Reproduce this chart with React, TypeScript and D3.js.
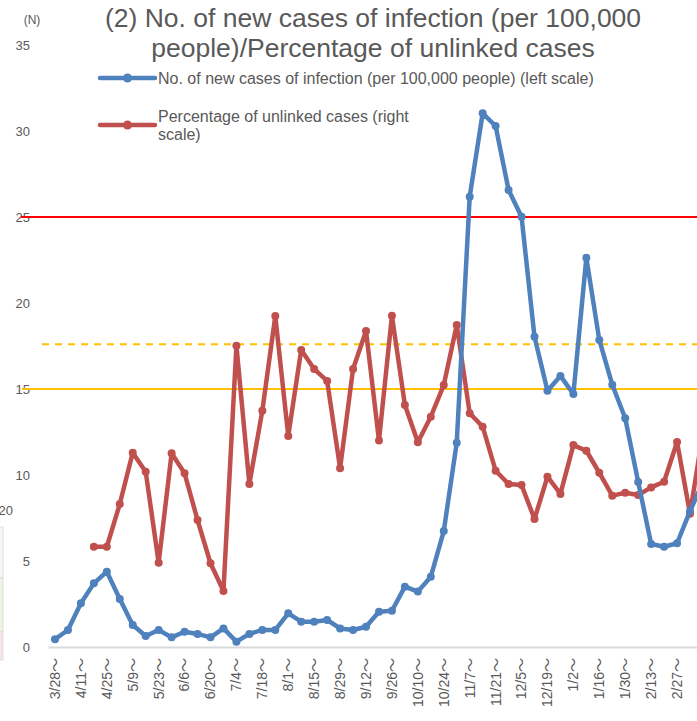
import React from "react";
import * as d3 from "d3";

const W = 697;
const H = 721;

// Weekly categories (week starting)
const weeks: string[] = [
  "3/28", "4/4", "4/11", "4/18", "4/25", "5/2", "5/9", "5/16", "5/23", "5/30",
  "6/6", "6/13", "6/20", "6/27", "7/4", "7/11", "7/18", "7/25", "8/1", "8/8",
  "8/15", "8/22", "8/29", "9/5", "9/12", "9/19", "9/26", "10/3", "10/10", "10/17",
  "10/24", "10/31", "11/7", "11/14", "11/21", "11/28", "12/5", "12/12", "12/19", "12/26",
  "1/2", "1/9", "1/16", "1/23", "1/30", "2/6", "2/13", "2/20", "2/27", "3/6", "3/13",
];

// No. of new cases of infection (per 100,000 people) — left scale
const newCases: number[] = [
  0.45, 0.99, 2.54, 3.7, 4.38, 2.79, 1.28, 0.64, 0.99, 0.56,
  0.89, 0.76, 0.56, 1.08, 0.31, 0.76, 0.99, 0.99, 1.96, 1.47,
  1.47, 1.57, 1.08, 0.99, 1.18, 2.05, 2.11, 3.51, 3.22, 4.09,
  6.74, 11.88, 26.18, 31.03, 30.29, 26.57, 25.02, 18.04, 14.9, 15.76,
  14.71, 22.63, 17.85, 15.25, 13.3, 9.6, 5.99, 5.83, 6.03, 7.9, 9.6,
];

// Percentage of unlinked cases — right scale (read against the left grid)
const unlinked: (number | null)[] = [
  null, null, null, 5.83, 5.83, 8.31, 11.3, 10.19, 4.9, 11.26,
  10.1, 7.38, 4.87, 3.26, 17.52, 9.48, 13.74, 19.24, 12.27, 17.27,
  16.16, 15.47, 10.39, 16.16, 18.37, 12.0, 19.26, 14.07, 11.9, 13.39,
  15.23, 18.72, 13.59, 12.81, 10.25, 9.48, 9.42, 7.44, 9.9, 8.9,
  11.74, 11.41, 10.13, 8.8, 8.97, 8.84, 9.28, 9.61, 11.92, 7.75, 12.5,
];

const leftTicks: number[] = [0, 5, 10, 15, 20, 25, 30, 35];

const refLines = [
  { value: 25, color: "#FF0000", dash: "", x0: 21 },
  { value: 17.6, color: "#FFC000", dash: "7,6", x0: 42 },
  { value: 15, color: "#FFC000", dash: "", x0: 22 },
];

const titleLines: string[] = [
  "(2) No. of new cases of infection (per 100,000",
  "people)/Percentage of unlinked cases",
];

const FONT = "'Liberation Sans', Arial, 'Noto Sans CJK JP', sans-serif";
const GREY = "#595959";
const BLUE = "#4F81BD";
const RED = "#C0504D";

export default function App() {
  const bandW = 12.96;
  const x0 = 48.5;
  const x = d3
    .scaleBand<string>()
    .domain(weeks)
    .range([x0, x0 + weeks.length * bandW])
    .padding(0);
  const cx = (w: string) => (x(w) as number) + x.bandwidth() / 2;

  const y = d3.scaleLinear().domain([0, 35]).range([647, 45]);
  const yRight = d3.scaleLinear().domain([0, 35]).range([647, 45]);

  const blueLine = d3
    .line<number>()
    .x((_, i) => cx(weeks[i]))
    .y((d) => y(d));

  const redData = unlinked
    .map((v, i) => ({ w: weeks[i], v }))
    .filter((d) => d.v !== null) as { w: string; v: number }[];
  const redLine = d3
    .line<{ w: string; v: number }>()
    .x((d) => cx(d.w))
    .y((d) => yRight(d.v));

  return (
    <div style={{ position: "absolute", left: 0, top: 0 }}>
      <svg width={W} height={H} style={{ display: "block", background: "#fff" }} fontFamily={FONT}>
        <defs>
          <clipPath id="clip">
            <rect x={0} y={0} width={W} height={H} />
          </clipPath>
        </defs>

        {/* fragments of neighbouring chart at left edge */}
        <g>
          <rect x={-1} y={527} width={4} height={51} fill="#F3F6FB" stroke="#D9D9D9" strokeWidth={0.8} />
          <rect x={-1} y={578} width={4} height={54} fill="#EAF5E4" stroke="#D9D9D9" strokeWidth={0.8} />
          <rect x={-1} y={632} width={4} height={28} fill="#F8E4E4" stroke="#D9D9D9" strokeWidth={0.8} />
          <text x={13} y={515} fontSize={13} fill={GREY} textAnchor="end">20</text>
        </g>

        {/* title */}
        <g fill={GREY} fontSize={26.5} textAnchor="middle">
          {titleLines.map((t, i) => (
            <text key={i} x={373} y={27 + i * 30}>{t}</text>
          ))}
        </g>
        <text x={32} y={24} fontSize={12} fill={GREY} textAnchor="middle">(N)</text>

        {/* left axis ticks */}
        <g fontSize={13} fill={GREY} textAnchor="end">
          {leftTicks.map((t) => (
            <text key={t} x={30} y={y(t)} dy="0.35em">{t}</text>
          ))}
        </g>

        {/* x axis */}
        <line x1={x0} x2={W} y1={647.5} y2={647.5} stroke="#D9D9D9" strokeWidth={2} />
        <g fontSize={14} fill={GREY}>
          {weeks.map((w, i) =>
            i % 2 === 0 ? (
              <text
                key={w}
                transform={`translate(${cx(w)},658) rotate(-90)`}
                textAnchor="end"
                dy="0.35em"
              >
                {w + "～"}
              </text>
            ) : null
          )}
        </g>

        {/* reference lines */}
        {refLines.map((r) => (
          <line
            key={r.value}
            x1={r.x0}
            x2={W}
            y1={y(r.value)}
            y2={y(r.value)}
            stroke={r.color}
            strokeWidth={2}
            strokeDasharray={r.dash || undefined}
          />
        ))}

        <g clipPath="url(#clip)">
          {/* red series */}
          <path d={redLine(redData) || ""} fill="none" stroke={RED} strokeWidth={4.5} strokeLinejoin="round" />
          {redData.map((d) => (
            <circle key={d.w} cx={cx(d.w)} cy={yRight(d.v)} r={4} fill={RED} />
          ))}
          {/* blue series */}
          <path d={blueLine(newCases) || ""} fill="none" stroke={BLUE} strokeWidth={4.5} strokeLinejoin="round" />
          {newCases.map((v, i) => (
            <circle key={i} cx={cx(weeks[i])} cy={y(v)} r={4} fill={BLUE} />
          ))}
        </g>

        {/* legend */}
        <g>
          <line x1={100} x2={155} y1={78} y2={78} stroke={BLUE} strokeWidth={4.5} strokeLinecap="round" />
          <circle cx={127.5} cy={78} r={4.5} fill={BLUE} />
          <text x={158} y={78} dy="0.35em" fontSize={16} fill={GREY}>
            No. of new cases of infection (per 100,000 people) (left scale)
          </text>
          <line x1={100} x2={155} y1={125} y2={125} stroke={RED} strokeWidth={4.5} strokeLinecap="round" />
          <circle cx={127.5} cy={125} r={4.5} fill={RED} />
          <text x={158} y={116} dy="0.35em" fontSize={16} fill={GREY}>
            Percentage of unlinked cases (right
          </text>
          <text x={158} y={134} dy="0.35em" fontSize={16} fill={GREY}>
            scale)
          </text>
        </g>
      </svg>
    </div>
  );
}
